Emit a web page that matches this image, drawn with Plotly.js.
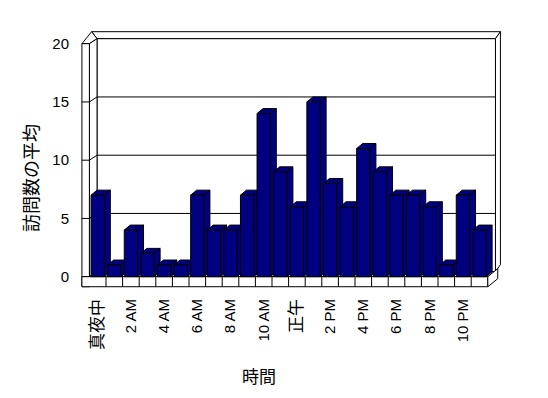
<!DOCTYPE html>
<html><head><meta charset="utf-8">
<script src="https://cdn.plot.ly/plotly-3.0.1.min.js"></script>
<style>html,body{margin:0;padding:0;background:#fff}</style>
</head><body><div id="chart" style="width:548px;height:398px"></div>
<script>
// ---- data ----
const hours = ['真夜中','1 AM','2 AM','3 AM','4 AM','5 AM','6 AM','7 AM','8 AM','9 AM','10 AM','11 AM',
               '正午','1 PM','2 PM','3 PM','4 PM','5 PM','6 PM','7 PM','8 PM','9 PM','10 PM','11 PM'];
const visits = [7,1,4,2,1,1,7,4,4,7,14,9,6,15,8,6,11,9,7,7,6,1,7,4];
const tickLabels = ['真夜中','2 AM','4 AM','6 AM','8 AM','10 AM','正午','2 PM','4 PM','6 PM','8 PM','10 PM'];
const yTicks = [0,5,10,15,20];
const xTitle = '時間';
const yTitle = '訪問数の平均';

// ---- geometry (pseudo-3D, in axis units) ----
const N = hours.length;
const YMAX = yTicks[yTicks.length-1];
const DX = 0.46, DY = 0.43;      // wall depth
const BDX = 0.36, BDY = 0.43;    // bar depth
const HW = 0.4;                  // bar half width
const WALL = 0.45, FLOOR = 0.86; // wall / floor thickness
const TX = 0.3, TY = 0.6;        // back wall thickness
const L = -0.5, R = N - 0.5;
const FONT = '"Liberation Sans", Arial, "Noto Sans CJK JP", sans-serif';

const tickIndex = tickLabels.map(t => hours.indexOf(t));
const tickText = tickLabels.map(t => /[^\x00-\x7f]/.test(t) ? '<span style="font-size:17px">' + t + '</span>' : t);

function svgPath(pts){ return 'M' + pts.map(p => p[0] + ',' + p[1]).join('L') + 'Z'; }
function poly(pts, fill){
  return {type:'path', xref:'x', yref:'y', layer:'below', path:svgPath(pts),
          fillcolor:fill || '#ffffff', line:{color:'#000', width:1}};
}
function seg(x0,y0,x1,y1){
  return {type:'line', xref:'x', yref:'y', layer:'below', x0:x0, y0:y0, x1:x1, y1:y1,
          line:{color:'#000', width:1}};
}

const shapes = [];
// back wall: top thickness + right side thickness
shapes.push(poly([[L+DX,YMAX+DY],[L+WALL*0.3,YMAX+DY+TY],[R+DX+TX,YMAX+DY+TY],[R+DX,YMAX+DY]]));
shapes.push(poly([[R+DX,DY],[R+DX,YMAX+DY],[R+DX+TX,YMAX+DY+TY],[R+DX+TX,DY+TY]]));
// back wall face
shapes.push(poly([[L+DX,DY],[R+DX,DY],[R+DX,YMAX+DY],[L+DX,YMAX+DY]]));
// left wall top, inner face, front edge
shapes.push(poly([[L-WALL,YMAX],[L,YMAX],[L+DX,YMAX+DY],[L+WALL*0.3,YMAX+DY+TY]]));
shapes.push(poly([[L,0],[L+DX,DY],[L+DX,YMAX+DY],[L,YMAX]]));
shapes.push(poly([[L-WALL,-FLOOR],[L,-FLOOR],[L,YMAX],[L-WALL,YMAX]]));
// grid lines: back wall, left wall diagonal, left wall ticks
yTicks.forEach(v => {
  if (v > 0 && v < YMAX) {
    shapes.push(seg(L+DX, v+DY, R+DX, v+DY));
    shapes.push(seg(L, v, L+DX, v+DY));
  }
  if (v < YMAX) shapes.push(seg(L-WALL, v, L, v));
});
// floor top, front face, right side
shapes.push(poly([[L,0],[R,0],[R+DX,DY],[L+DX,DY]]));
shapes.push(poly([[L-WALL,-FLOOR],[R,-FLOOR],[R,0],[L-WALL,0]]));
shapes.push(poly([[R,-FLOOR],[R+0.6,-FLOOR+0.69],[R+0.6,0.69],[R,0]]));
// floor category dividers
for (let i = 0; i < N-1; i++) shapes.push(seg(i+0.5, -FLOOR, i+0.5, 0));

// ---- bars from data ----
const sideF = {x:[], y:[]}, topF = {x:[], y:[]}, frontF = {x:[], y:[]};
function add(o, pts){ pts.forEach(p => { o.x.push(p[0]); o.y.push(p[1]); }); o.x.push(null); o.y.push(null); }
visits.forEach((v, i) => {
  add(sideF,  [[i+HW,0],[i+HW+BDX,BDY],[i+HW+BDX,v+BDY],[i+HW,v],[i+HW,0]]);
  add(topF,   [[i-HW,v],[i+HW,v],[i+HW+BDX,v+BDY],[i-HW+BDX,v+BDY],[i-HW,v]]);
  add(frontF, [[i-HW,0],[i+HW,0],[i+HW,v],[i-HW,v],[i-HW,0]]);
});
function faceTrace(o){
  return {type:'scatter', mode:'lines', x:o.x, y:o.y, fill:'toself', fillcolor:'#000080',
          line:{color:'#000', width:1}, hoverinfo:'skip', showlegend:false, connectgaps:false};
}
const traces = [faceTrace(sideF), faceTrace(topF), faceTrace(frontF)];

// ---- layout: plot area 70..510 x 28..292 px ----
const PXU = 16.6, PYU = 11.65;
const x0 = L - (89.4 - 70) / PXU;
const y0 = -(292 - 276.7) / PYU;
const layout = {
  width:548, height:398,
  margin:{l:70, r:38, t:28, b:106},
  paper_bgcolor:'#fff', plot_bgcolor:'#fff',
  showlegend:false,
  font:{family:FONT, color:'#000'},
  xaxis:{range:[x0, x0 + 440/PXU], showgrid:false, zeroline:false, showline:false, ticks:'',
         tickvals:tickIndex, ticktext:tickText, tickangle:-90, ticklabelstandoff:3,
         tickfont:{size:15, family:FONT}},
  yaxis:{range:[y0, y0 + 264/PYU], showgrid:false, zeroline:false, showline:false, ticks:'',
         tickvals:yTicks, tickfont:{size:15, family:FONT}},
  shapes:shapes,
  annotations:[
    {text:xTitle, xref:'paper', yref:'paper', x:(259-70)/440, y:(292-377)/264,
     xanchor:'center', yanchor:'middle', showarrow:false, font:{size:17, family:FONT}},
    {text:yTitle, xref:'paper', yref:'paper', x:(32-70)/440, y:(292-178)/264, textangle:-90,
     xanchor:'center', yanchor:'middle', showarrow:false, font:{size:18, family:FONT}}
  ]
};
Plotly.newPlot('chart', traces, layout, {staticPlot:true, displayModeBar:false});
</script></body></html>
